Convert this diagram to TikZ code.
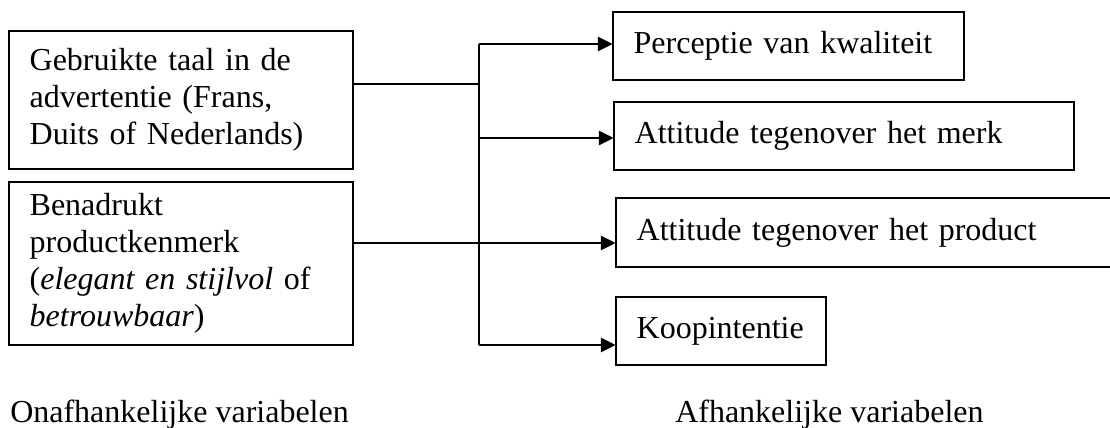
\documentclass[tikz,border=0pt]{standalone}
\usepackage{fontspec}
\setmainfont{Liberation Serif}
\usetikzlibrary{arrows.meta}

\begin{document}
\begin{tikzpicture}[x=0.75pt, y=-0.75pt,
    box/.style={draw, line width=0.8pt, inner xsep=15.5pt, inner ysep=0pt, align=left,
        font=\fontsize{24}{27.75}\selectfont},
    caption/.style={anchor=base west, inner sep=0pt, font=\fontsize{24}{27.75}\selectfont},
    arr/.style={line width=0.8pt, -{Triangle[length=11pt, width=11pt]}}]
  \useasboundingbox (0,0) rectangle (1110,428);
  % independent variables
  \node[box, text width=227pt, minimum height=103.5pt] (taal) at (181,100)
      {Gebruikte taal in de\\advertentie (Frans,\\Duits of Nederlands)};
  \node[box, text width=227pt, minimum height=122.25pt] (kenmerk) at (181,263.5)
      {Benadrukt\\productkenmerk\\(\textit{elegant en stijlvol} of\\\textit{betrouwbaar})};
  % dependent variables
  \node[box, text width=232.25pt, minimum height=51pt] (kwal) at (788.5,46) {Perceptie van kwaliteit};
  \node[box, text width=314pt, minimum height=51pt] (merk) at (844,136) {Attitude tegenover het merk};
  \node[box, text width=351.5pt, minimum height=51.75pt] (product) at (871,232.5) {Attitude tegenover het product};
  \node[box, text width=126.5pt, minimum height=51pt] (koop) at (721,331) {Koopintentie};
  % branching line
  \coordinate (top) at (479,44);
  \coordinate (bot) at (479,345);
  \coordinate (mid1) at (479,84);
  \coordinate (mid2) at (479,138);
  \coordinate (mid3) at (479,243);
  \draw[line width=0.8pt] (taal.east |- mid1) -- (mid1);
  \draw[line width=0.8pt] (top) -- (bot);
  \draw[arr] (top) -- (kwal.west |- top);
  \draw[arr] (mid2) -- (merk.west |- mid2);
  \draw[arr] (kenmerk.east |- mid3) -- (product.west |- mid3);
  \draw[arr] (bot) -- (koop.west |- bot);
  % captions
  \node[caption] (onaf) at (10,422) {Onafhankelijke variabelen};
  \node[caption] (afh) at (675,422) {Afhankelijke variabelen};
\end{tikzpicture}
\end{document}
